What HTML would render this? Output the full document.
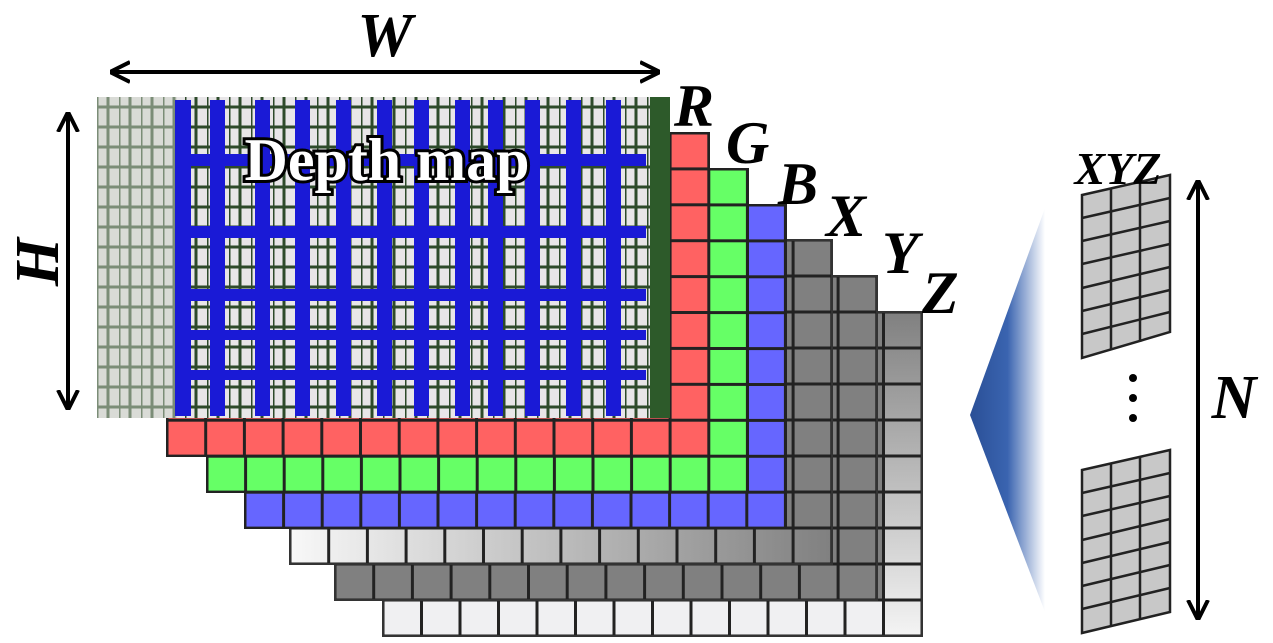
<!DOCTYPE html>
<html><head><meta charset="utf-8"><style>html,body{margin:0;padding:0;background:#fff}svg{display:block}</style></head>
<body>
<svg width="1273" height="643" viewBox="0 0 1273 643" xmlns="http://www.w3.org/2000/svg">
<defs>
<pattern id="pZ" x="383" y="312" width="38.5" height="36" patternUnits="userSpaceOnUse"><rect width="38.5" height="36" fill="none" stroke="#222" stroke-width="3"/></pattern>
<pattern id="pY" x="335" y="276" width="38.7" height="36" patternUnits="userSpaceOnUse"><rect width="38.7" height="36" fill="none" stroke="#222" stroke-width="3"/></pattern>
<pattern id="pX" x="290" y="240" width="38.7" height="36" patternUnits="userSpaceOnUse"><rect width="38.7" height="36" fill="none" stroke="#222" stroke-width="3"/></pattern>
<pattern id="pB" x="245" y="205" width="38.6" height="35.9" patternUnits="userSpaceOnUse"><rect width="38.6" height="35.9" fill="none" stroke="#222" stroke-width="3"/></pattern>
<pattern id="pG" x="207" y="169" width="38.6" height="35.9" patternUnits="userSpaceOnUse"><rect width="38.6" height="35.9" fill="none" stroke="#222" stroke-width="3"/></pattern>
<pattern id="pR" x="167" y="133" width="38.7" height="35.9" patternUnits="userSpaceOnUse"><rect width="38.7" height="35.9" fill="none" stroke="#222" stroke-width="3"/></pattern>
<pattern id="pImg" x="97" y="97" width="22" height="20" patternUnits="userSpaceOnUse"><rect width="22" height="20" fill="#e8e6e8"/><path d="M0 0V20M11 0V20M0 10H22" stroke="#2d4a2a" stroke-width="3"/></pattern>
<linearGradient id="gXr" x1="0" x2="1"><stop offset="0" stop-color="#f8f8f8"/><stop offset="1" stop-color="#808080"/></linearGradient>
<linearGradient id="gVc" x1="0" y1="0" x2="0" y2="1"><stop offset="0" stop-color="#808080"/><stop offset="1" stop-color="#f4f4f4"/></linearGradient>
<linearGradient id="gTri" x1="0" x2="1"><stop offset="0" stop-color="#2a4f96"/><stop offset="0.5" stop-color="#3a64b0"/><stop offset="1" stop-color="#ffffff"/></linearGradient>
<marker id="ah" viewBox="0 0 10 10" refX="9" refY="5" markerWidth="5" markerHeight="6" orient="auto-start-reverse" markerUnits="strokeWidth"><path d="M0 0L10 5L0 10" fill="none" stroke="#000" stroke-width="2"/></marker>
</defs>

<rect x="383" y="312" width="539" height="324" fill="#808080"/>
<rect x="383" y="600" width="539" height="36" fill="#f0f0f2"/>
<rect x="883" y="312" width="39" height="324" fill="url(#gVc)"/>
<rect x="383" y="312" width="539" height="324" fill="url(#pZ)" stroke="#333" stroke-width="2"/>
<rect x="335" y="276" width="542" height="324" fill="#808080"/>
<rect x="335" y="276" width="542" height="324" fill="url(#pY)" stroke="#333" stroke-width="2"/>
<rect x="290" y="240" width="542" height="324" fill="#808080"/>
<rect x="290" y="528" width="542" height="36" fill="url(#gXr)"/>
<rect x="290" y="240" width="542" height="324" fill="url(#pX)" stroke="#333" stroke-width="2"/>
<rect x="245" y="205" width="541" height="323" fill="#6666ff"/>
<rect x="245" y="205" width="541" height="323" fill="url(#pB)" stroke="#222" stroke-width="2"/>
<rect x="207" y="169" width="541" height="323" fill="#66ff66"/>
<rect x="207" y="169" width="541" height="323" fill="url(#pG)" stroke="#222" stroke-width="2"/>
<rect x="167" y="133" width="542" height="323" fill="#ff6262"/>
<rect x="167" y="133" width="542" height="323" fill="url(#pR)" stroke="#222" stroke-width="2"/>

<rect x="97" y="97" width="573" height="321" fill="url(#pImg)"/>
<rect x="97" y="97" width="80" height="321" fill="#c9cfc4" opacity="0.5"/>
<g fill="#1a1ad6">
<rect x="175" y="100" width="16" height="316"/><rect x="210" y="100" width="15" height="316"/><rect x="255" y="100" width="15" height="316"/><rect x="295" y="100" width="15" height="316"/><rect x="336" y="100" width="15" height="316"/><rect x="377" y="100" width="15" height="316"/><rect x="414" y="100" width="15" height="316"/><rect x="455" y="100" width="15" height="316"/><rect x="488" y="100" width="15" height="316"/><rect x="525" y="100" width="15" height="316"/><rect x="566" y="100" width="15" height="316"/><rect x="606" y="100" width="15" height="316"/>
<rect x="176" y="154" width="470" height="12"/><rect x="176" y="226" width="470" height="12"/><rect x="176" y="289" width="470" height="12"/><rect x="176" y="330" width="470" height="10"/><rect x="176" y="370" width="470" height="10"/>
</g>
<rect x="650" y="97" width="20" height="321" fill="#2d5a2a"/>
<text x="387" y="180" text-anchor="middle" font-family="Liberation Serif, serif" font-weight="bold" font-size="60" fill="#fff" stroke="#000" stroke-width="6" paint-order="stroke">Depth map</text>

<line x1="112" y1="72" x2="658" y2="72" stroke="#000" stroke-width="4" marker-start="url(#ah)" marker-end="url(#ah)"/>
<text x="385" y="56" text-anchor="middle" font-family="Liberation Serif, serif" font-style="italic" font-weight="bold" font-size="62">W</text>
<line x1="68" y1="114" x2="68" y2="408" stroke="#000" stroke-width="4" marker-start="url(#ah)" marker-end="url(#ah)"/>
<text transform="translate(58,262) rotate(-90)" text-anchor="middle" font-family="Liberation Serif, serif" font-style="italic" font-weight="bold" font-size="62">H</text>

<g font-family="Liberation Serif, serif" font-style="italic" font-weight="bold" font-size="60">
<text x="674" y="126">R</text><text x="726" y="163">G</text><text x="778" y="204">B</text><text x="826" y="236">X</text><text x="882" y="273">Y</text><text x="922" y="313">Z</text>
</g>

<polygon points="970,415 1045,208 1045,612" fill="url(#gTri)"/>

<g stroke="#222" stroke-width="2.5">
<polygon points="1082,195 1170,175 1170,332 1082,358" fill="#c8c8c8"/>
<path d="M1111,189V349M1140,182V342" fill="none"/>
<path d="M1082,218L1170,198M1082,241L1170,221M1082,264L1170,244M1082,288L1170,267M1082,311L1170,290M1082,334L1170,312" fill="none"/>
<polygon points="1082,470 1170,450 1170,612 1082,633" fill="#c8c8c8"/>
<path d="M1111,463V626M1140,457V619" fill="none"/>
<path d="M1082,493L1170,473M1082,516L1170,496M1082,540L1170,519M1082,563L1170,542M1082,586L1170,565M1082,609L1170,588" fill="none"/>
</g>
<circle cx="1133" cy="378" r="4"/><circle cx="1133" cy="398" r="4"/><circle cx="1133" cy="418" r="4"/>
<text x="1118" y="184" text-anchor="middle" font-family="Liberation Serif, serif" font-style="italic" font-weight="bold" font-size="46">XYZ</text>
<line x1="1198" y1="182" x2="1198" y2="618" stroke="#000" stroke-width="4" marker-start="url(#ah)" marker-end="url(#ah)"/>
<text x="1234" y="418" text-anchor="middle" font-family="Liberation Serif, serif" font-style="italic" font-weight="bold" font-size="62">N</text>
</svg>
</body></html>
